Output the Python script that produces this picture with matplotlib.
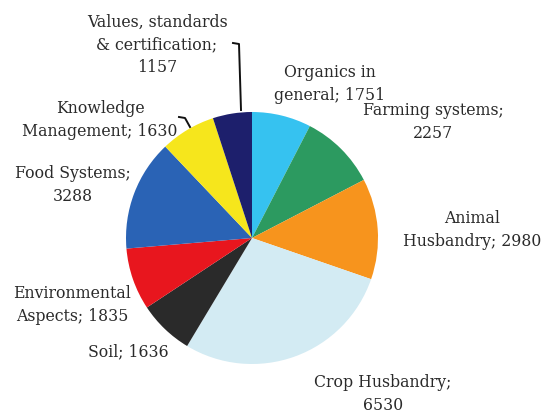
import matplotlib.pyplot as plt

# Dados do gráfico (sentido horário a partir do topo)
categorias = ['Organics in\ngeneral', 'Farming systems', 'Animal\nHusbandry', 'Crop Husbandry',
              'Soil', 'Environmental\nAspects', 'Food Systems', 'Knowledge\nManagement',
              'Values, standards\n& certification']
valores = [1751, 2257, 2980, 6530, 1636, 1835, 3288, 1630, 1157]
cores = ['#36C2F0', '#2C9A60', '#F7941D', '#D3EBF3', '#2A2A2A',
         '#E8161E', '#2A63B5', '#F6E61C', '#1D1F6C']

# rótulos: "nome; valor" com quebra de linha onde o original tem
rotulos = [
    'Organics in\ngeneral; 1751',
    'Farming systems;\n2257',
    'Animal\nHusbandry; 2980',
    'Crop Husbandry;\n6530',
    'Soil; 1636',
    'Environmental\nAspects; 1835',
    'Food Systems;\n3288',
    'Knowledge\nManagement; 1630',
    'Values, standards\n& certification;\n1157',
]
# posição dos rótulos em pixels (x, y a partir do topo)
pos_rotulos = [(330, 84), (433, 122), (472, 230), (383, 394), (128, 352),
               (72, 305), (73, 185), (100, 120), (157, 45)]

W, H = 542, 412
fig = plt.figure(figsize=(W / 100, H / 100), dpi=100)
ax = fig.add_axes([0, 0, 1, 1])

ax.pie(valores, colors=cores, startangle=90, counterclock=False,
       center=(252, H - 238), radius=126, frame=True,
       wedgeprops={'linewidth': 0})
ax.set_xlim(0, W)
ax.set_ylim(0, H)
ax.set_aspect('equal')
ax.axis('off')

for txt, (x, y) in zip(rotulos, pos_rotulos):
    ax.text(x, H - y, txt, ha='center', va='center', fontsize=11.3,
            family='DejaVu Serif', color='#2a2a2a', linespacing=1.45)

# linhas de chamada
ax.plot([233, 239, 241], [H - 43, H - 44, H - 110], color='#111111', lw=1.4)
ax.plot([179, 185, 190], [H - 117, H - 118, H - 127], color='#111111', lw=1.4)

plt.savefig('out.png', dpi=100)
